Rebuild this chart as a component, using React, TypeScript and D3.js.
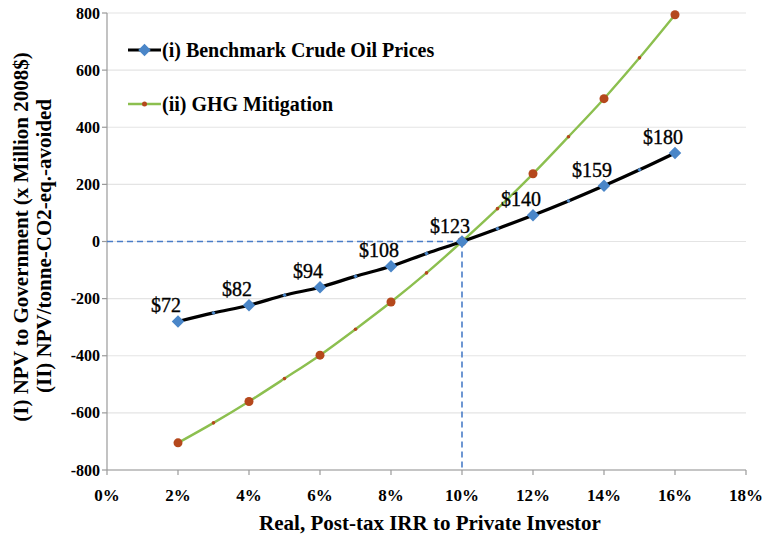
import * as d3 from "d3";

// x values (IRR, %)
const majorIrr = [2, 4, 6, 8, 10, 12, 14, 16];
const minorIrr = [3, 5, 7, 9, 11, 13, 15];

// (i) Benchmark crude oil prices
const oilMajor = [-280, -223, -160, -87, 0, 92, 195, 310];
const oilMinor = [-250, -188, -122, -42, 45, 142, 251];
const oilLabels = ["$72", "$82", "$94", "$108", "$123", "$140", "$159", "$180"];

// (ii) GHG mitigation
const ghgMajor = [-705, -560, -398, -212, 0, 237, 500, 794];
const ghgMinor = [-635, -480, -307, -110, 115, 367, 643];

const xTicks = [0, 2, 4, 6, 8, 10, 12, 14, 16, 18];
const yTicks = [-800, -600, -400, -200, 0, 200, 400, 600, 800];

const seriesNames = ["(i) Benchmark Crude Oil Prices", "(ii) GHG Mitigation"];

export default function App() {
  const width = 765;
  const height = 546;
  const marginLeft = 107;
  const marginRight = 19;
  const marginTop = 13;
  const marginBottom = 76;
  const font = "Liberation Serif";

  const x = d3.scaleLinear().domain([0, 18]).range([marginLeft, width - marginRight]);
  const y = d3.scaleLinear().domain([-800, 800]).range([height - marginBottom, marginTop]);

  const merge = (maj: number[], min: number[]) =>
    d3.sort(
      [
        ...majorIrr.map((v, i) => [v, maj[i]] as [number, number]),
        ...minorIrr.map((v, i) => [v, min[i]] as [number, number]),
      ],
      (d) => d[0]
    );

  const line = d3
    .line<[number, number]>()
    .x((d) => x(d[0]))
    .y((d) => y(d[1]))
    .curve(d3.curveMonotoneX);

  const oilPath = line(merge(oilMajor, oilMinor)) ?? "";
  const ghgPath = line(merge(ghgMajor, ghgMinor)) ?? "";

  const blue = "#4a86c8";
  const green = "#8cbf4f";
  const brown = "#b5481c";
  const diamond = d3.symbol().type(d3.symbolDiamond2).size(100)() ?? "";
  const smallDiamond = d3.symbol().type(d3.symbolDiamond2).size(12)() ?? "";

  return (
    <svg width={width} height={height} style={{ display: "block", position: "absolute", left: 0, top: 0 }}>
      <rect width={width} height={height} fill="#fff" />

      {/* gridlines */}
      {yTicks.map((t) => (
        <line key={t} x1={marginLeft} x2={width - marginRight} y1={y(t)} y2={y(t)} stroke="#e4e4e4" strokeWidth={1.2} />
      ))}

      {/* axes */}
      <line x1={marginLeft} x2={marginLeft} y1={y(800)} y2={y(-800)} stroke="#9a9a9a" strokeWidth={1.2} />
      <line x1={marginLeft} x2={width - marginRight} y1={y(-800)} y2={y(-800)} stroke="#9a9a9a" strokeWidth={1.2} />
      {yTicks.map((t) => (
        <g key={t} transform={`translate(${marginLeft}, ${y(t)})`}>
          <line x1={-5} x2={0} stroke="#9a9a9a" strokeWidth={1.2} />
          <text x={-7} dy="0.35em" textAnchor="end" fontFamily={font} fontWeight="bold" fontSize={16}>
            {t}
          </text>
        </g>
      ))}
      {xTicks.map((t) => (
        <g key={t} transform={`translate(${x(t)}, ${y(-800)})`}>
          <line y2={5} stroke="#9a9a9a" strokeWidth={1.2} />
          <text y={31} textAnchor="middle" fontFamily={font} fontWeight="bold" fontSize={17}>
            {t}%
          </text>
        </g>
      ))}

      {/* axis titles */}
      <text x={430} y={530} textAnchor="middle" fontFamily={font} fontWeight="bold" fontSize={21}>
        Real, Post-tax IRR to Private Investor
      </text>
      <g transform={`translate(28, 237) rotate(-90)`}>
        <text textAnchor="middle" fontFamily={font} fontWeight="bold" fontSize={21}>
          {"(I)  NPV to Government (x Million 2008$)"}
        </text>
      </g>
      <g transform={`translate(51, 246) rotate(-90)`}>
        <text textAnchor="middle" fontFamily={font} fontWeight="bold" fontSize={21}>
          {"(II)  NPV/tonne-CO2-eq.-avoided"}
        </text>
      </g>

      {/* dashed reference lines at break-even */}
      <line x1={x(0)} x2={x(10)} y1={y(0)} y2={y(0)} stroke="#4a7dc8" strokeWidth={1.6} strokeDasharray="6,4" />
      <line x1={x(10)} x2={x(10)} y1={y(0)} y2={y(-800)} stroke="#4a7dc8" strokeWidth={1.6} strokeDasharray="6,4" />

      {/* GHG series */}
      <path d={ghgPath} fill="none" stroke={green} strokeWidth={2.4} />
      {minorIrr.map((v, i) => (
        <circle key={v} cx={x(v)} cy={y(ghgMinor[i])} r={1.8} fill={brown} />
      ))}
      {majorIrr.map((v, i) => (
        <circle key={v} cx={x(v)} cy={y(ghgMajor[i])} r={4.5} fill={brown} />
      ))}

      {/* Oil series */}
      <path d={oilPath} fill="none" stroke="#000" strokeWidth={3.2} />
      {minorIrr.map((v, i) => (
        <path key={v} d={smallDiamond} transform={`translate(${x(v)}, ${y(oilMinor[i])})`} fill={blue} />
      ))}
      {majorIrr.map((v, i) => (
        <path key={v} d={diamond} transform={`translate(${x(v)}, ${y(oilMajor[i])})`} fill={blue} />
      ))}
      {majorIrr.map((v, i) => (
        <text key={v} x={x(v) - 12} y={y(oilMajor[i]) - 9} textAnchor="middle" fontFamily={font} stroke="#000" strokeWidth={0.35} fontSize={20}>
          {oilLabels[i]}
        </text>
      ))}

      {/* legend */}
      <g transform="translate(128, 50)">
        <line x1={0} x2={33} stroke="#000" strokeWidth={3.2} />
        <path d={diamond} transform="translate(16.5, 0)" fill={blue} />
        <text x={34} dy="0.35em" fontFamily={font} fontWeight="bold" fontSize={20}>
          {seriesNames[0]}
        </text>
      </g>
      <g transform="translate(128, 104)">
        <line x1={0} x2={33} stroke={green} strokeWidth={2.4} />
        <circle cx={16.5} r={2.5} fill={brown} />
        <text x={34} dy="0.35em" fontFamily={font} fontWeight="bold" fontSize={20}>
          {seriesNames[1]}
        </text>
      </g>
    </svg>
  );
}
